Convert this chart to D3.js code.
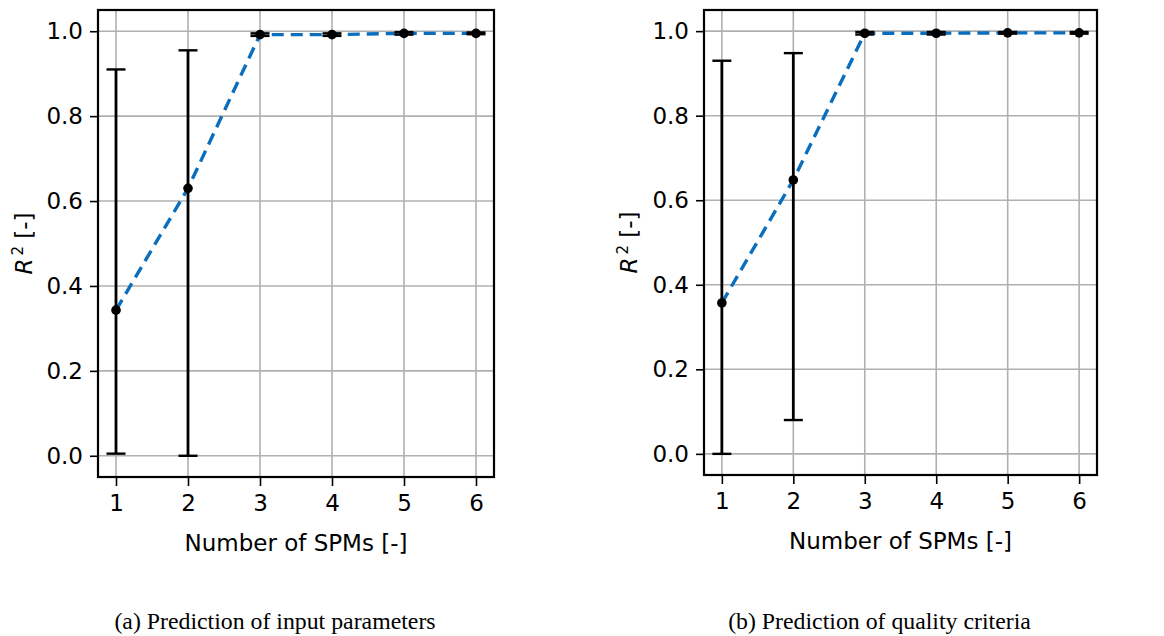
<!DOCTYPE html>
<html lang="en">
<head>
<meta charset="utf-8">
<script src="https://d3js.org/d3.v7.min.js"></script>
<style>
  body { margin: 0; background: #fff; }
  .tick text { font-family: "DejaVu Sans", sans-serif; }
</style>
</head>
<body>
<script>
// data
var spms = [1, 2, 3, 4, 5, 6];
var xTicks = [1, 2, 3, 4, 5, 6];
var yTicks = [0.0, 0.2, 0.4, 0.6, 0.8, 1.0];

var inputMean = [0.343, 0.630, 0.992, 0.992, 0.995, 0.995];
var inputLow  = [0.005, 0.000, 0.989, 0.989, 0.992, 0.993];
var inputHigh = [0.910, 0.955, 0.995, 0.995, 0.998, 0.997];

var qualityMean = [0.357, 0.648, 0.995, 0.995, 0.996, 0.996];
var qualityLow  = [0.000, 0.080, 0.992, 0.992, 0.994, 0.994];
var qualityHigh = [0.930, 0.948, 0.998, 0.998, 0.998, 0.998];

var captions = ["(a) Prediction of input parameters", "(b) Prediction of quality criteria"];

var width = 1164, height = 636;
var svg = d3.select("body").append("svg")
    .attr("width", width)
    .attr("height", height);

function panel(left, right, top, bottom, mean, low, high, caption, ylabX) {
    var x = d3.scaleLinear().domain([0.75, 6.25]).range([left, right]);
    var y = d3.scaleLinear().domain([-0.05, 1.05]).range([bottom, top]);
    var g = svg.append("g");

    // grid
    g.selectAll(".gx").data(xTicks).enter().append("line")
        .attr("x1", d => x(d)).attr("x2", d => x(d))
        .attr("y1", top).attr("y2", bottom)
        .attr("stroke", "#b0b0b0").attr("stroke-width", 1.6);
    g.selectAll(".gy").data(yTicks).enter().append("line")
        .attr("x1", left).attr("x2", right)
        .attr("y1", d => y(d)).attr("y2", d => y(d))
        .attr("stroke", "#b0b0b0").attr("stroke-width", 1.6);

    // axes
    var ax = g.append("g").attr("transform", "translate(0," + bottom + ")")
        .call(d3.axisBottom(x).tickValues(xTicks).tickSize(9).tickPadding(9).tickFormat(d3.format("d")));
    var ay = g.append("g").attr("transform", "translate(" + left + ",0)")
        .call(d3.axisLeft(y).tickValues(yTicks).tickSize(8).tickPadding(7).tickFormat(d3.format(".1f")));
    [ax, ay].forEach(function(a) {
        a.select(".domain").remove();
        a.selectAll(".tick line").attr("stroke", "#000").attr("stroke-width", 1.6);
        a.selectAll(".tick text").attr("font-size", 23).attr("fill", "#000");
    });

    // dashed mean line
    var pts = spms.map((s, i) => [s, mean[i]]);
    g.append("path")
        .datum(pts)
        .attr("d", d3.line().x(d => x(d[0])).y(d => y(d[1])))
        .attr("fill", "none")
        .attr("stroke", "#0a6ebd")
        .attr("stroke-width", 3.4)
        .attr("stroke-dasharray", "12,7");

    // error bars
    var eb = g.selectAll(".eb").data(spms).enter().append("g");
    eb.append("line")
        .attr("x1", d => x(d)).attr("x2", d => x(d))
        .attr("y1", (d, i) => y(low[i])).attr("y2", (d, i) => y(high[i]))
        .attr("stroke", "#000").attr("stroke-width", 2.8);
    eb.append("line")
        .attr("x1", d => x(d) - 9.5).attr("x2", d => x(d) + 9.5)
        .attr("y1", (d, i) => y(low[i])).attr("y2", (d, i) => y(low[i]))
        .attr("stroke", "#000").attr("stroke-width", 2.4);
    eb.append("line")
        .attr("x1", d => x(d) - 9.5).attr("x2", d => x(d) + 9.5)
        .attr("y1", (d, i) => y(high[i])).attr("y2", (d, i) => y(high[i]))
        .attr("stroke", "#000").attr("stroke-width", 2.4);

    g.selectAll(".pt").data(spms).enter().append("circle")
        .attr("cx", d => x(d)).attr("cy", (d, i) => y(mean[i]))
        .attr("r", 4.8).attr("fill", "#000");

    // frame
    g.append("rect")
        .attr("x", left).attr("y", top)
        .attr("width", right - left).attr("height", bottom - top)
        .attr("fill", "none").attr("stroke", "#000").attr("stroke-width", 2.2);

    // labels
    g.append("text")
        .attr("x", (left + right) / 2).attr("y", bottom + 74)
        .attr("text-anchor", "middle")
        .attr("font-family", "DejaVu Sans, sans-serif")
        .attr("font-size", 23)
        .text("Number of SPMs [-]");

    var yl = g.append("text")
        .attr("transform", "translate(" + ylabX + "," + ((top + bottom) / 2) + ") rotate(-90)")
        .attr("text-anchor", "middle")
        .attr("font-family", "DejaVu Sans, sans-serif")
        .attr("font-size", 23);
    yl.append("tspan").attr("font-style", "italic").text("R");
    yl.append("tspan").attr("font-size", 15).attr("dy", -9).attr("dx", 3).text("2");
    yl.append("tspan").attr("dy", 9).text(" [-]");

    g.append("text")
        .attr("x", (left + right) / 2 - 21).attr("y", 629)
        .attr("text-anchor", "middle")
        .attr("font-family", "Liberation Serif, serif")
        .attr("font-size", 23.8)
        .text(caption);
}

panel(98, 494, 10, 477, inputMean, inputLow, inputHigh, captions[0], 32);
panel(704, 1097, 10, 475, qualityMean, qualityLow, qualityHigh, captions[1], 637);
</script>
</body>
</html>
